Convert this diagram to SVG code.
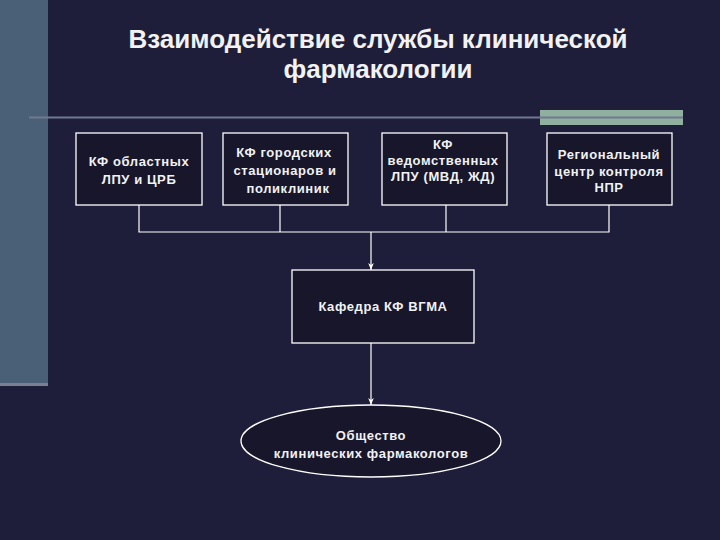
<svg xmlns="http://www.w3.org/2000/svg" width="720" height="540" viewBox="0 0 720 540">
<style>
.box{fill:#17162b;stroke:#ffffff;stroke-width:1.3}
.t{font-family:"Liberation Sans",Arial,sans-serif;font-weight:bold;font-size:13px;letter-spacing:0.6px;fill:#f2f2f2;text-anchor:middle}
.title{font-family:"Liberation Sans",Arial,sans-serif;font-weight:bold;font-size:26px;fill:#f2f2f2;text-anchor:middle}
.c{fill:none;stroke:#ffffff;stroke-width:1.2}
</style>
<defs>
<marker id="ah" viewBox="0 0 10 10" refX="10" refY="5" markerWidth="7" markerHeight="7" orient="auto" markerUnits="userSpaceOnUse">
<path d="M0,1 L10,5 L0,9 L3,5 Z" fill="#ffffff"/>
</marker>
</defs>
<rect width="720" height="540" fill="#1f1e3a"/>
<rect x="0" y="0" width="48" height="383" fill="#4a6076"/>
<rect x="0" y="383" width="48" height="3" fill="#7a7f90"/>
<rect x="540" y="110" width="143" height="15" fill="#8fb09f"/>
<line x1="29" y1="117.5" x2="683" y2="117.5" stroke="#737890" stroke-width="2"/>
<text class="title" x="378" y="48">Взаимодействие службы клинической</text>
<text class="title" x="378" y="78">фармакологии</text>
<g id="connectors">
<polyline class="c" points="139,205 139,232 609,232 609,205"/>
<line class="c" x1="280" y1="205" x2="280" y2="232"/>
<line class="c" x1="446" y1="205" x2="446" y2="232"/>
<line class="c" x1="371" y1="232" x2="371" y2="270" marker-end="url(#ah)"/>
<line class="c" x1="371" y1="343" x2="371" y2="405" marker-end="url(#ah)"/>
</g>
<g id="n1">
<rect class="box" x="76" y="133" width="126" height="72"/>
<text class="t" x="139" y="166">КФ областных</text>
<text class="t" x="139" y="184">ЛПУ и ЦРБ</text>
</g>
<g id="n2">
<rect class="box" x="223" y="133" width="125" height="72"/>
<text class="t" x="284" y="157">КФ городских</text>
<text class="t" x="285" y="175">стационаров и</text>
<text class="t" x="288" y="193">поликлиник</text>
</g>
<g id="n3">
<rect class="box" x="382" y="133" width="125" height="72"/>
<text class="t" x="443" y="149">КФ</text>
<text class="t" x="443" y="165">ведомственных</text>
<text class="t" x="443" y="181">ЛПУ (МВД, ЖД)</text>
</g>
<g id="n4">
<rect class="box" x="547" y="133" width="125" height="72"/>
<text class="t" x="609" y="159">Региональный</text>
<text class="t" x="609" y="176">центр контроля</text>
<text class="t" x="609" y="192">НПР</text>
</g>
<g id="n5">
<rect class="box" x="292" y="270" width="182" height="73"/>
<text class="t" x="383" y="311">Кафедра КФ ВГМА</text>
</g>
<g id="n6">
<ellipse class="box" cx="371" cy="441" rx="130" ry="36"/>
<text class="t" x="371" y="440">Общество</text>
<text class="t" x="371" y="458">клинических фармакологов</text>
</g>
</svg>
